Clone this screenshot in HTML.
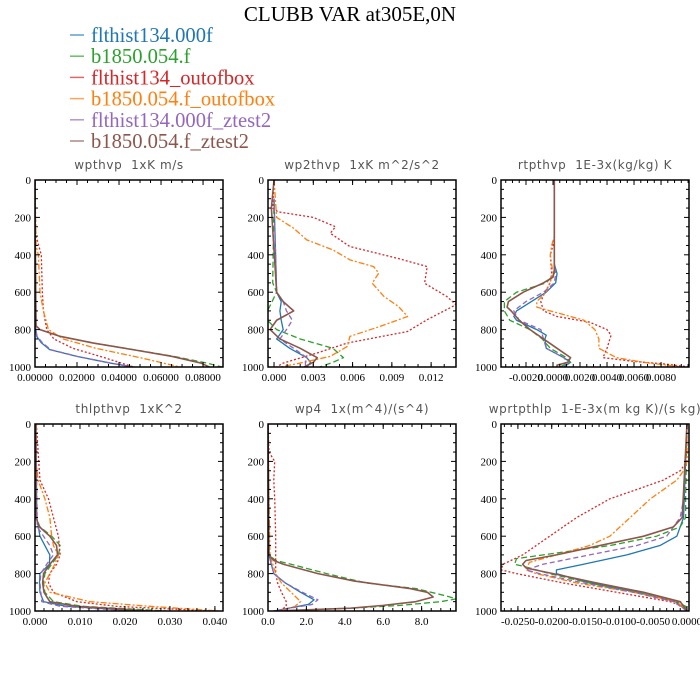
<!DOCTYPE html>
<html><head><meta charset="utf-8"><style>
body{margin:0;background:#fff;}
svg{display:block;}
.t{font-family:"Liberation Serif",serif;}
.s{font-family:"DejaVu Sans","Liberation Sans",sans-serif;white-space:pre;}
</style></head><body>
<svg id="chart" width="700" height="700" viewBox="0 0 700 700">
<text class="t" x="350" y="21" font-size="21" text-anchor="middle">CLUBB VAR at305E,0N</text>
<g id="legend"></g>
<g id="panels"></g>
</svg>
<script>
const seriesNames = ["flthist134.000f","b1850.054.f","flthist134_outofbox","b1850.054.f_outofbox","flthist134.000f_ztest2","b1850.054.f_ztest2"];
const seriesColors = ["#1f77b4","#2ca02c","#d62728","#ff7f0e","#9467bd","#8c564b"];
const seriesDash = ["","6,3","2,2","6,2,2,2","5,3",""];
const yTicks = [0,200,400,600,800,1000];

// wpthvp
const wpthvp_blue = [[0,0],[700,0.0003],[800,0.0004],[836,0.0008],[870,0.003],[907,0.007],[943,0.0199],[979,0.0358],[1000,0.0469]];
const wpthvp_green = [[0,0],[150,0],[780,0.0005],[800,0.0024],[836,0.0119],[872,0.0278],[907,0.0469],[943,0.066],[979,0.0819],[1000,0.089]];
const wpthvp_red = [[0,0],[150,0],[300,0.0005],[400,0.003],[600,0.0035],[700,0.004],[800,0.0056],[850,0.009],[900,0.018],[950,0.033],[1000,0.047]];
const wpthvp_orange = [[0,0],[350,0.0005],[400,0.0016],[600,0.0024],[700,0.004],[800,0.0064],[850,0.0135],[900,0.029],[950,0.05],[1000,0.069]];
const wpthvp_purple = [[0,0],[800,0.0004],[836,0.001],[870,0.0035],[907,0.0075],[943,0.02],[979,0.036],[1000,0.046]];
const wpthvp_brown = [[0,0],[150,0],[780,0.0005],[800,0.0024],[836,0.0119],[872,0.0278],[907,0.0465],[943,0.065],[979,0.079],[1000,0.083]];
const wpthvp_ticks = [0,0.02,0.04,0.06,0.08];
const wpthvp_labels = ["0.00000","0.02000","0.04000","0.06000","0.08000"];

// wp2thvp
const wp2thvp_blue = [[100,0],[600,0.0002],[650,0.00055],[700,0.00045],[750,0.00055],[800,0.0007],[850,0.0002],[900,0.0012],[950,0.0025],[975,0.0028],[1000,0.0025]];
const wp2thvp_green = [[100,0],[550,-0.0001],[600,0.0002],[700,-0.0005],[750,-0.0005],[800,0.0002],[850,0.002],[900,0.0045],[950,0.0053],[975,0.0045],[1000,0.0035]];
const wp2thvp_red = [[0,0],[150,-0.0001],[170,0.0003],[200,0.003],[250,0.0047],[285,0.0043],[356,0.0058],[420,0.0095],[463,0.0117],[552,0.0115],[623,0.0132],[667,0.0139],[747,0.0117],[810,0.0102],[872,0.0056],[925,0.0033],[979,0.0007],[1000,0.0002]];
const wp2thvp_orange = [[0,0],[200,0.0002],[258,0.0015],[320,0.0025],[374,0.0045],[427,0.0058],[463,0.0076],[498,0.008],[552,0.0075],[623,0.0084],[676,0.0095],[730,0.0102],[783,0.0081],[836,0.0058],[890,0.0056],[943,0.0043],[979,0.002],[1000,0.0005]];
const wp2thvp_purple = [[100,0],[600,0.0002],[650,0.0007],[700,0.00095],[750,0.0014],[800,0.00095],[850,0.00045],[900,0.0015],[950,0.0025],[975,0.0024],[1000,0.0024]];
const wp2thvp_brown = [[0,0],[150,-0.0002],[600,0.0002],[650,0.0007],[700,0.0015],[750,0.0002],[800,-0.0003],[850,0.00045],[900,0.002],[950,0.0033],[975,0.003],[1000,0.0023]];
const wp2thvp_ticks = [0,0.003,0.006,0.009,0.012];
const wp2thvp_labels = ["0.000","0.003","0.006","0.009","0.012"];

// rtpthvp
const rtpthvp_blue = [[0,0.0001],[450,0.0001],[500,0.0003],[550,0.0002],[600,-0.0005],[650,-0.0016],[700,-0.0027],[730,-0.0029],[750,-0.0027],[800,-0.0012],[830,-0.0005],[850,-0.0006],[900,-0.0005],[950,0.0008],[975,0.0013],[1000,0.0008]];
const rtpthvp_green = [[0,0.0001],[450,0.0001],[500,0.0001],[550,-0.0005],[600,-0.0027],[650,-0.0036],[700,-0.0036],[750,-0.0032],[800,-0.0017],[850,-0.0008],[900,-0.0002],[950,0.001],[975,0.0013],[1000,0.0005]];
const rtpthvp_red = [[0,0.0001],[300,0.0001],[350,0],[400,-0.0002],[500,-0.0001],[550,-0.0002],[600,-0.0006],[650,-0.0009],[700,-0.0007],[730,0.0003],[760,0.0027],[800,0.004],[830,0.0043],[900,0.004],[950,0.0037],[970,0.006],[985,0.0084],[1000,0.0101]];
const rtpthvp_orange = [[0,0.0001],[300,0.0001],[350,-0.0001],[400,-0.0002],[500,0],[600,-0.0005],[650,-0.0012],[680,-0.0012],[710,0.0003],[750,0.0023],[800,0.0031],[850,0.0034],[900,0.0034],[950,0.0047],[975,0.0067],[1000,0.0096]];
const rtpthvp_purple = [[0,0.0001],[450,0.0001],[500,0.0002],[550,0.0001],[600,-0.0007],[650,-0.002],[700,-0.0029],[750,-0.0025],[800,-0.0009],[850,-0.0007],[900,-0.0005],[950,0.0008],[975,0.0011],[1000,0.0005]];
const rtpthvp_brown = [[0,0.0001],[480,0.0001],[520,0],[550,-0.0007],[600,-0.0022],[650,-0.0033],[680,-0.0034],[700,-0.0031],[750,-0.0025],[800,-0.0017],[850,-0.0007],[900,0.0003],[950,0.0013],[975,0.0011],[990,0.0003],[1000,0.0003]];
const rtpthvp_ticks = [-0.002,0,0.002,0.004,0.006,0.008];
const rtpthvp_labels = ["-0.0020","0.0000","0.0020","0.0040","0.0060","0.0080"];

// thlpthvp
const thlpthvp_blue = [[0,0.0002],[500,0.0004],[600,0.0011],[650,0.0022],[700,0.0033],[750,0.0032],[800,0.0011],[850,0.001],[900,0.0011],[950,0.0019],[975,0.0070],[1000,0.0233]];
const thlpthvp_green = [[0,0.0002],[500,0.0002],[550,0.0011],[600,0.0037],[650,0.0056],[700,0.0052],[750,0.0037],[800,0.0022],[850,0.0019],[900,0.0022],[950,0.0041],[975,0.0107],[1000,0.0293]];
const thlpthvp_red = [[0,0.0003],[150,0.0007],[300,0.0011],[400,0.003],[500,0.0041],[600,0.0052],[700,0.0056],[750,0.0048],[800,0.0033],[850,0.003],[900,0.0041],[950,0.0093],[975,0.0181],[1000,0.0396]];
const thlpthvp_orange = [[0,0.0003],[200,0.0002],[300,0.0007],[400,0.0022],[500,0.0033],[600,0.0037],[650,0.0041],[700,0.0052],[750,0.0044],[800,0.0033],[850,0.0022],[900,0.0033],[950,0.0122],[975,0.0256],[1000,0.041]];
const thlpthvp_purple = [[0,0.0002],[550,0.0005],[600,0.0019],[650,0.0033],[700,0.0041],[750,0.0026],[800,0.0013],[850,0.0011],[900,0.0013],[950,0.0015],[975,0.0056],[1000,0.0219]];
const thlpthvp_brown = [[0,0.0002],[500,0.0002],[550,0.001],[600,0.0033],[650,0.0048],[700,0.0050],[750,0.0033],[800,0.0019],[850,0.0017],[900,0.002],[950,0.0033],[975,0.0093],[1000,0.0256]];
const thlpthvp_ticks = [0,0.01,0.02,0.03,0.04];
const thlpthvp_labels = ["0.000","0.010","0.020","0.030","0.040"];

// wp4
const wp4_blue = [[0,0],[700,0.05],[800,0.3],[850,0.9],[900,1.7],[940,2.4],[965,2.1],[1000,0.3]];
const wp4_green = [[0,0],[700,0.05],[730,0.4],[750,1.2],[800,3.05],[850,5.1],[880,7.7],[920,9.3],[935,9.8],[950,9.0],[970,6.9],[985,4.3],[1000,0.4]];
const wp4_red = [[0,0],[150,0.05],[200,0.35],[300,0.3],[400,0.35],[600,0.4],[800,0.4],[850,0.5],[900,0.7],[950,0.95],[975,0.95],[1000,0.6]];
const wp4_orange = [[0,0],[400,0.05],[700,0.1],[800,0.4],[850,0.7],[900,1.2],[950,1.7],[975,1.4],[1000,0.6]];
const wp4_purple = [[0,0],[700,0.05],[800,0.3],[850,0.9],[900,1.8],[940,2.6],[965,2.3],[1000,0.3]];
const wp4_brown = [[0,0],[700,0.05],[730,0.3],[750,0.8],[800,2.6],[840,4.5],[880,7.4],[900,8.3],[925,8.6],[950,7.7],[970,6.0],[985,4.3],[1000,0.3]];
const wp4_ticks = [0,2,4,6,8];
const wp4_labels = ["0.0","2.0","4.0","6.0","8.0"];

// wprtpthlp
const wprtpthlp_blue = [[0,0],[500,-0.0005],[600,-0.0015],[650,-0.004],[700,-0.0089],[750,-0.0153],[780,-0.0193],[800,-0.0193],[850,-0.0144],[900,-0.0074],[950,-0.0017],[1000,0]];
const wprtpthlp_green = [[0,0],[400,-0.0002],[500,-0.0002],[550,-0.001],[600,-0.0045],[650,-0.0114],[690,-0.0193],[720,-0.0252],[750,-0.0255],[760,-0.0243],[800,-0.0203],[850,-0.0144],[900,-0.0074],[950,-0.0015],[975,-0.0002],[1000,0]];
const wprtpthlp_red = [[0,0],[200,0],[250,-0.001],[300,-0.0035],[350,-0.0074],[400,-0.0114],[500,-0.0163],[600,-0.0203],[700,-0.0243],[750,-0.0272],[780,-0.0275],[800,-0.0252],[850,-0.0183],[900,-0.0104],[950,-0.0025],[975,-0.0005],[1000,0]];
const wprtpthlp_orange = [[0,0],[200,0],[250,-0.0005],[300,-0.0015],[400,-0.0054],[500,-0.0084],[600,-0.0114],[650,-0.0144],[700,-0.0193],[740,-0.0233],[780,-0.0238],[800,-0.0223],[850,-0.0163],[900,-0.0079],[950,-0.0015],[1000,0]];
const wprtpthlp_purple = [[0,0],[400,-0.0005],[500,-0.001],[600,-0.003],[650,-0.0074],[700,-0.0144],[750,-0.0213],[780,-0.0238],[800,-0.0218],[850,-0.0153],[900,-0.0079],[950,-0.002],[1000,0]];
const wprtpthlp_brown = [[0,0],[500,-0.0007],[550,-0.002],[600,-0.0064],[650,-0.0129],[700,-0.0193],[730,-0.0238],[750,-0.0243],[770,-0.0238],[800,-0.0198],[850,-0.0134],[900,-0.0064],[950,-0.001],[1000,0]];
const wprtpthlp_ticks = [-0.025,-0.02,-0.015,-0.01,-0.005,0];
const wprtpthlp_labels = ["-0.0250","-0.0200","-0.0150","-0.0100","-0.0050","0.0000"];

const NS="http://www.w3.org/2000/svg";
function mk(tag, attrs, parent){const e=document.createElementNS(NS,tag);for(const k in attrs)e.setAttribute(k,attrs[k]);parent.appendChild(e);return e;}

// legend
const leg=document.getElementById('legend');
seriesNames.forEach((n,i)=>{
  const y=35+i*21.2;
  const ln=mk('line',{x1:70,x2:84,y1:y,y2:y,stroke:seriesColors[i],'stroke-width':1.5,opacity:0.7},leg);
  
  
  const tx=mk('text',{x:91,y:y+7,'font-size':20.6,fill:seriesColors[i],class:'t'},leg);
  tx.textContent=n;
  
  
});

const panels=[
 {name:'wpthvp',title:'wpthvp  1xK m/s',x:35,y:180,xmin:0,xmax:0.0895,minor:0.005,ticks:wpthvp_ticks,labels:wpthvp_labels,series:[wpthvp_blue,wpthvp_green,wpthvp_red,wpthvp_orange,wpthvp_purple,wpthvp_brown]},
 {name:'wp2thvp',title:'wp2thvp  1xK m^2/s^2',x:268,y:180,xmin:-0.00046,xmax:0.0139,minor:0.001,ticks:wp2thvp_ticks,labels:wp2thvp_labels,series:[wp2thvp_blue,wp2thvp_green,wp2thvp_red,wp2thvp_orange,wp2thvp_purple,wp2thvp_brown]},
 {name:'rtpthvp',title:'rtpthvp  1E-3x(kg/kg) K',x:501,y:180,xmin:-0.00385,xmax:0.01007,minor:0.0005,ticks:rtpthvp_ticks,labels:rtpthvp_labels,series:[rtpthvp_blue,rtpthvp_green,rtpthvp_red,rtpthvp_orange,rtpthvp_purple,rtpthvp_brown]},
 {name:'thlpthvp',title:'thlpthvp  1xK^2',x:35,y:424,xmin:0,xmax:0.0418,minor:0.002,ticks:thlpthvp_ticks,labels:thlpthvp_labels,series:[thlpthvp_blue,thlpthvp_green,thlpthvp_red,thlpthvp_orange,thlpthvp_purple,thlpthvp_brown]},
 {name:'wp4',title:'wp4  1x(m^4)/(s^4)',x:268,y:424,xmin:0,xmax:9.79,minor:0.5,ticks:wp4_ticks,labels:wp4_labels,series:[wp4_blue,wp4_green,wp4_red,wp4_orange,wp4_purple,wp4_brown]},
 {name:'wprtpthlp',title:'wprtpthlp  1-E-3x(m kg K)/(s kg)',x:501,y:424,xmin:-0.0275,xmax:0.0003,minor:0.001,ticks:wprtpthlp_ticks,labels:wprtpthlp_labels,series:[wprtpthlp_blue,wprtpthlp_green,wprtpthlp_red,wprtpthlp_orange,wprtpthlp_purple,wprtpthlp_brown]}
];
const W=188,H=187;
const root=document.getElementById('panels');
panels.forEach(P=>{
  const g=mk('g',{},root);
  
  
  const sx=v=>P.x+(v-P.xmin)/(P.xmax-P.xmin)*W;
  const sy=p=>P.y+p/1000*H;
  const tt=mk('text',{x:P.x+W/2,y:P.y-11,'font-size':12,'text-anchor':'middle',fill:'#555',class:'s','letter-spacing':0.6},g);
  tt.textContent=P.title;
  
  
  const cid='clip-'+P.name;
  const cp=mk('clipPath',{id:cid},g);
  mk('rect',{x:P.x,y:P.y,width:W,height:H},cp);
  const lg=mk('g',{'clip-path':'url(#'+cid+')'},g);
  P.series.forEach((s,i)=>{
    const d=s.map((pt,k)=>(k?'L':'M')+sx(pt[1]).toFixed(2)+','+sy(pt[0]).toFixed(2)).join(' ');
    const a={d:d,fill:'none',stroke:seriesColors[i],'stroke-width':i==5?1.6:1.3,'stroke-linejoin':'round'};
    if(seriesDash[i])a['stroke-dasharray']=seriesDash[i];
    const path=mk('path',a,lg);
    
    
  });
  const tk=mk('g',{stroke:'#000','stroke-width':1},g);
  
  
  for(let p=0;p<=1000;p+=50){
    const y=sy(p), L=(p%200==0)?5:3;
    mk('line',{x1:P.x,x2:P.x+L,y1:y,y2:y},tk);
    mk('line',{x1:P.x+W,x2:P.x+W-L,y1:y,y2:y},tk);
  }
  const m0=Math.ceil(P.xmin/P.minor-1e-6);
  for(let k=m0;k*P.minor<=P.xmax+1e-12;k++){
    const x=sx(k*P.minor);
    mk('line',{x1:x,x2:x,y1:P.y,y2:P.y+3},tk);
    mk('line',{x1:x,x2:x,y1:P.y+H,y2:P.y+H-3},tk);
  }
  P.ticks.forEach((v,i)=>{
    const x=sx(v);
    mk('line',{x1:x,x2:x,y1:P.y,y2:P.y+5},tk);
    mk('line',{x1:x,x2:x,y1:P.y+H,y2:P.y+H-5},tk);
    const t=mk('text',{x:x,y:P.y+H+14,'font-size':11,'text-anchor':'middle',class:'t'},g);
    t.textContent=P.labels[i];
    
    
  });
  yTicks.forEach(p=>{
    const t=mk('text',{x:P.x-4,y:sy(p)+4,'font-size':11,'text-anchor':'end',class:'t'},g);
    t.textContent=p;
    
    
  });
  const fr=mk('rect',{x:P.x,y:P.y,width:W,height:H,fill:'none',stroke:'#000','stroke-width':1.5},g);
  
  
});
</script>
</body></html>
